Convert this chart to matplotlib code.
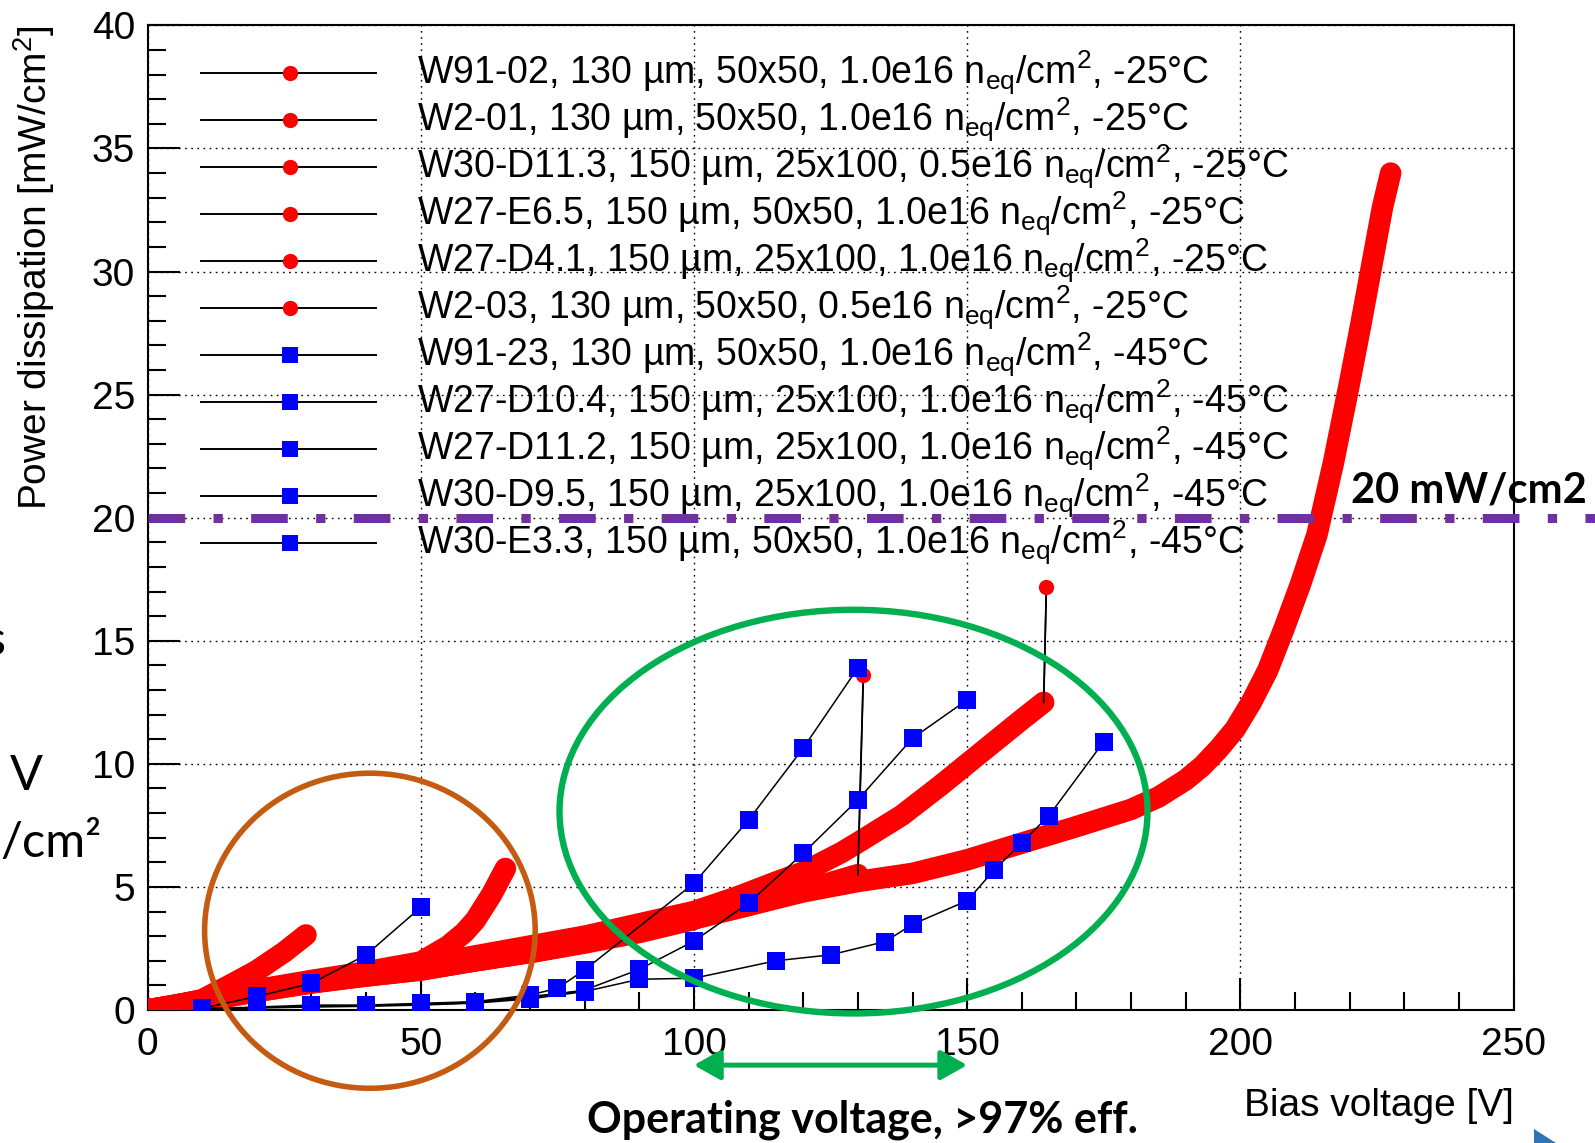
import matplotlib
matplotlib.use("Agg")
import matplotlib.pyplot as plt
import matplotlib.transforms as mtransforms
from matplotlib.patches import Ellipse, Polygon
from matplotlib.ticker import MultipleLocator

plt.rcParams["font.family"] = ["Liberation Sans", "DejaVu Sans"]
plt.rcParams["mathtext.fontset"] = "custom"
plt.rcParams["mathtext.rm"] = "Liberation Sans"
plt.rcParams["mathtext.it"] = "Liberation Sans:italic"
plt.rcParams["mathtext.bf"] = "Liberation Sans:bold"
plt.rcParams["lines.scale_dashes"] = False

# -25 C sensors: bias voltage [V], power dissipation [mW/cm2]
w91_02_v = [0, 10, 20, 30, 40, 50, 60, 70, 80, 90, 100, 110, 120, 130, 131]
w91_02_p = [0, 0.35, 0.75, 1.1, 1.4, 1.65, 2.0, 2.35, 2.75, 3.2, 3.7, 4.25, 4.85, 5.5, 13.6]
w2_01_v = [0, 10, 20, 30, 40, 45, 50, 55, 58, 60, 63, 65.5]
w2_01_p = [0, 0.4, 0.82, 1.2, 1.55, 1.75, 1.95, 2.6, 3.15, 3.65, 4.7, 5.75]
w30_d11_3_v = [0, 10, 20, 30, 40, 50, 60, 70, 80, 90, 100, 110, 120, 130, 140, 150, 160,
               170, 175, 180, 185, 190, 193, 196, 199, 202, 205, 208, 211, 214, 217, 220,
               222, 224, 226, 227.5]
w30_d11_3_p = [0, 0.37, 0.78, 1.12, 1.38, 1.63, 2.0, 2.35, 2.75, 3.2, 3.72, 4.25, 4.8, 5.22,
               5.55, 6.1, 6.78, 7.45, 7.8, 8.15, 8.65, 9.35, 9.9, 10.6, 11.4, 12.5, 13.8,
               15.5, 17.3, 19.3, 22.2, 25.5, 27.8, 30.2, 32.6, 34.0]
w27_e6_5_v = [0, 10, 20, 30, 40, 50, 60, 70, 80, 90, 100, 108, 115, 120, 127, 130, 138, 145,
              150, 155, 160, 164, 164.5]
w27_e6_5_p = [0, 0.38, 0.8, 1.18, 1.5, 1.8, 2.2, 2.6, 3.0, 3.5, 4.0, 4.6, 5.2, 5.6, 6.4, 6.8,
              7.9, 9.1, 10.0, 10.9, 11.8, 12.5, 17.2]
w27_d4_1_v = [0, 10, 20, 30, 40, 50, 60, 70, 80, 90, 100]
w27_d4_1_p = [0, 0.36, 0.76, 1.1, 1.38, 1.62, 2.0, 2.33, 2.72, 3.15, 3.68]
w2_03_v = [0, 5, 10, 15, 20, 25, 29]
w2_03_p = [0, 0.18, 0.42, 1.0, 1.6, 2.35, 3.05]

# -45 C sensors
w91_23_v = [10, 20, 30, 40, 50]
w91_23_p = [0.07, 0.55, 1.08, 2.24, 4.17]
w27_d10_4_v = [10, 20, 30, 40, 50, 60, 70, 75, 80, 100, 110, 120, 130]
w27_d10_4_p = [0.05, 0.12, 0.2, 0.2, 0.27, 0.34, 0.61, 0.88, 1.63, 5.15, 7.72, 10.64, 13.9]
w27_d11_2_v = [10, 20, 30, 40, 50, 60, 70, 80, 90, 100, 110, 120, 130, 140, 150]
w27_d11_2_p = [0.04, 0.1, 0.15, 0.18, 0.22, 0.3, 0.5, 0.81, 1.65, 2.8, 4.34, 6.37, 8.54,
               11.04, 12.6]
w30_d9_5_v = [10, 20, 30, 40, 50, 60, 70, 80]
w30_d9_5_p = [0.05, 0.1, 0.15, 0.17, 0.24, 0.32, 0.55, 0.78]
w30_e3_3_v = [10, 20, 30, 40, 50, 60, 70, 80, 90, 100, 115, 125, 135, 140, 150, 155, 160,
              165, 175]
w30_e3_3_p = [0.03, 0.08, 0.12, 0.15, 0.2, 0.28, 0.45, 0.75, 1.25, 1.29, 2.0, 2.24, 2.78,
              3.48, 4.44, 5.7, 6.8, 7.9, 10.9]

sub = r"n$_{\mathrm{eq}}$/cm$^{2}$"
red_labels = [
    f"W91-02, 130 µm, 50x50, 1.0e16 {sub}, -25°C",
    f"W2-01, 130 µm, 50x50, 1.0e16 {sub}, -25°C",
    f"W30-D11.3, 150 µm, 25x100, 0.5e16 {sub}, -25°C",
    f"W27-E6.5, 150 µm, 50x50, 1.0e16 {sub}, -25°C",
    f"W27-D4.1, 150 µm, 25x100, 1.0e16 {sub}, -25°C",
    f"W2-03, 130 µm, 50x50, 0.5e16 {sub}, -25°C",
]
blue_labels = [
    f"W91-23, 130 µm, 50x50, 1.0e16 {sub}, -45°C",
    f"W27-D10.4, 150 µm, 25x100, 1.0e16 {sub}, -45°C",
    f"W27-D11.2, 150 µm, 25x100, 1.0e16 {sub}, -45°C",
    f"W30-D9.5, 150 µm, 25x100, 1.0e16 {sub}, -45°C",
    f"W30-E3.3, 150 µm, 50x50, 1.0e16 {sub}, -45°C",
]
red_series = [(w91_02_v, w91_02_p), (w2_01_v, w2_01_p), (w30_d11_3_v, w30_d11_3_p),
              (w27_e6_5_v, w27_e6_5_p), (w27_d4_1_v, w27_d4_1_p), (w2_03_v, w2_03_p)]
# last point of these runs is the breakdown jump
red_breakdown = [True, False, False, True, False, False]
blue_series = [(w91_23_v, w91_23_p), (w27_d10_4_v, w27_d10_4_p), (w27_d11_2_v, w27_d11_2_p),
               (w30_d9_5_v, w30_d9_5_p), (w30_e3_3_v, w30_e3_3_p)]

power_limit = 20.0
operating_range = (100, 150)

RED = "#ff0000"
BLUE = "#0000ff"

fig = plt.figure(figsize=(15.95, 11.43), dpi=100)
ax = fig.add_axes([147.5 / 1595, 1 - 1010 / 1143, 1366.1 / 1595, 984.6 / 1143])
ax.set_xlim(0, 250)
ax.set_ylim(0, 40)

# red graphs: dense markers merge into a thick band
for (v, p), jump in zip(red_series, red_breakdown):
    ax.plot(v, p, color="black", lw=1.1, zorder=2.5)
    band_v, band_p = (v[:-1], p[:-1]) if jump else (v, p)
    ax.plot(band_v, band_p, color=RED, lw=15.5, solid_capstyle="round",
            solid_joinstyle="round", zorder=3)
for (v, p), jump in zip(red_series, red_breakdown):
    if jump:
        ax.plot(v[-2:], p[-2:], color="black", lw=1.3, zorder=3.6)
        ax.plot(v[-1], p[-1], "o", color=RED, ms=11, mew=0, zorder=3.7)

for v, p in blue_series:
    ax.plot(v, p, color="black", lw=1.1, zorder=4)
    ax.plot(v, p, "s", color=BLUE, ms=13, mew=0, zorder=5)

# ROOT-like frame, ticks and grid
ax.xaxis.set_major_locator(MultipleLocator(50))
ax.xaxis.set_minor_locator(MultipleLocator(10))
ax.yaxis.set_major_locator(MultipleLocator(5))
ax.yaxis.set_minor_locator(MultipleLocator(1))
ax.tick_params(which="both", direction="in", width=1.5, top=False, right=False)
ax.tick_params(which="major", length=23, labelsize=28)
ax.tick_params(axis="x", which="major", pad=12)
ax.tick_params(axis="y", which="major", pad=9)
ax.tick_params(which="minor", length=13)
for spine in ax.spines.values():
    spine.set_linewidth(1.5)
ax.grid(True, which="major", color="black", linestyle=(0, (1.2, 3.2)), linewidth=1.0,
        zorder=0)
ax.set_axisbelow(True)

ax.set_ylabel("Power dissipation [mW/cm$^{2}$]", fontsize=28, loc="top")
ax.yaxis.set_label_coords(-0.066, 1.0)
ax.set_xlabel("Bias voltage [V]", fontsize=28, loc="right")
ax.xaxis.set_label_coords(1.0, -0.079)

# legend drawn by hand, ROOT style (no box)
def ax_x(px):
    return (px - 147.5) / 1366.1


def ax_y(py):
    return (1010 - py) / 984.6


entries = [(lab, "o", RED, 11) for lab in red_labels] + \
          [(lab, "s", BLUE, 11.5) for lab in blue_labels]
for i, (lab, marker, color, ms) in enumerate(entries):
    row = 73.2 + 47.0 * i
    ax.plot([ax_x(201), ax_x(376)], [ax_y(row)] * 2, color="black", lw=1.4,
            transform=ax.transAxes, zorder=6)
    ax.plot(ax_x(290), ax_y(row), marker, color=color, ms=ms, mew=0,
            transform=ax.transAxes, zorder=7)
    ax.text(ax_x(417), ax_y(row + 10), lab, fontsize=27, va="baseline", ha="left",
            transform=ax.transAxes, zorder=7)

# 20 mW/cm2 limit, running past the frame to the page edge
blend = mtransforms.blended_transform_factory(ax.transAxes, ax.transData)
ax.plot([0, (1595 - 147.5) / 1366.1], [power_limit, power_limit], color="#7030a0", lw=6.5,
        linestyle=(0, (26.4, 20.4, 6.7, 20.4)), transform=blend, clip_on=False, zorder=8)
fig.text(1587 / 1595, 1 - 502 / 1143, "20 mW/cm2", fontsize=30, fontweight="bold",
         family=["Lato", "DejaVu Sans"], ha="right", va="baseline")

# highlighted regions
ax.add_patch(Ellipse((40.7, 3.22), 60.5, 12.8, fill=False, edgecolor="#c55a11", lw=4.0,
                     clip_on=False, zorder=9))
ax.add_patch(Ellipse((129.2, 8.06), 107.6, 16.4, fill=False, edgecolor="#00b050", lw=4.6,
                     clip_on=False, zorder=9))
ax.annotate("", xy=(operating_range[1], -2.24), xytext=(operating_range[0], -2.24),
            arrowprops=dict(arrowstyle="<|-|>,head_length=0.8,head_width=0.45",
                            color="#00b050", lw=3.6, shrinkA=0, shrinkB=0,
                            mutation_scale=20),
            annotation_clip=False)
fig.text(862 / 1595, 1 - 1132 / 1143, "Operating voltage, >97% eff.", fontsize=31,
         fontweight="bold", family=["Lato", "DejaVu Sans"], ha="center", va="baseline")

# slide text cut off at the left edge
side_font = ["Lato", "DejaVu Sans"]
fig.text(5 / 1595, 1 - 655 / 1143, "s", fontsize=35, family=side_font, ha="right",
         va="baseline")
fig.text(10 / 1595, 1 - 790 / 1143, "V", fontsize=35, family=side_font, ha="left",
         va="baseline")
fig.text(102 / 1595, 1 - 857 / 1143, "/cm²", fontsize=35, family=side_font, ha="right",
         va="baseline")
fig.patches.append(Polygon([(1534 / 1595, 14 / 1143), (1534 / 1595, 0), (1556 / 1595, 0)],
                           closed=True, facecolor="#2e75b6", edgecolor="none",
                           transform=fig.transFigure, figure=fig))

fig.savefig("out.png", dpi=100)
